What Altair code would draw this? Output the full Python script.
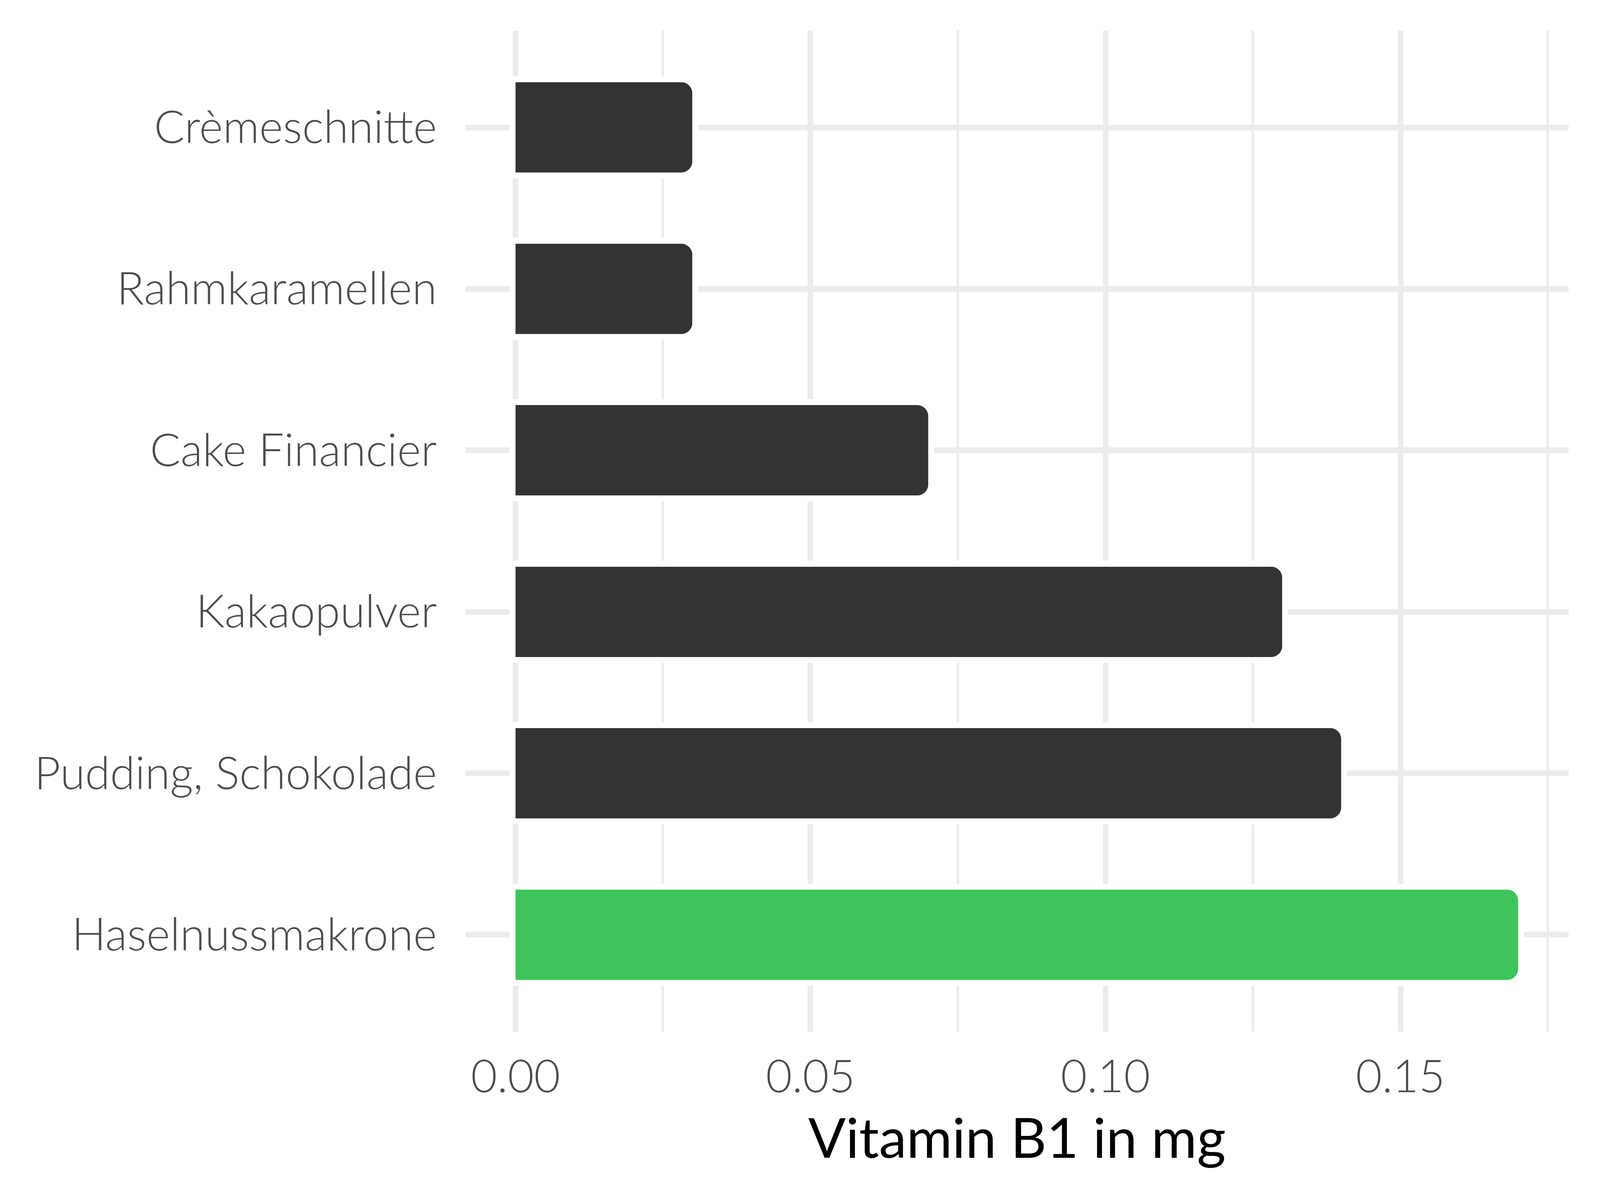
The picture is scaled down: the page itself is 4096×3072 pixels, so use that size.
import altair as alt
import pandas as pd

foods = ["Crèmeschnitte", "Rahmkaramellen", "Cake Financier", "Kakaopulver",
         "Pudding, Schokolade", "Haselnussmakrone"]
values = [0.03, 0.03, 0.07, 0.13, 0.14, 0.17]
highlight = ["nein", "nein", "nein", "nein", "nein", "ja"]
major_ticks = [0.0, 0.05, 0.10, 0.15]
minor_ticks = [0.025, 0.075, 0.125, 0.175]

df = pd.DataFrame({"food": foods, "value": values, "hl": highlight})
minor_df = pd.DataFrame({"value": minor_ticks})

FONT = "Lato"
GRID = "#ebebeb"
LABEL_SIZE = 116

x_scale = alt.Scale(domain=[-0.0085, 0.1785], nice=False, zero=False)
x_axis = alt.Axis(
    values=major_ticks, format=".2f", grid=True, gridColor=GRID, gridWidth=14,
    ticks=False, tickSize=0, domain=False,
    labelFont=FONT, labelFontSize=LABEL_SIZE, labelFontWeight=300, labelColor="#4d4d4d",
    labelPadding=154, labelBaseline="alphabetic", labelFlush=False, labelLimit=3000,
    labelOverlap=False,
    title="Vitamin B1 in mg", titleFont=FONT, titleFontSize=142,
    titleFontWeight="normal", titleColor="#000000",
    titleY=322, titleBaseline="alphabetic",
)
y_scale = alt.Scale(paddingInner=0.44, paddingOuter=0.32)
y_axis = alt.Axis(
    title=None, grid=True, gridColor=GRID, gridWidth=14.5,
    ticks=False, tickSize=0, domain=False,
    labelFont=FONT, labelFontSize=LABEL_SIZE, labelFontWeight=300, labelColor="#4d4d4d",
    labelPadding=73, labelOffset=40, labelBaseline="alphabetic", labelLimit=3000,
)

x_enc = alt.X("value:Q", scale=x_scale, axis=x_axis)
y_enc = alt.Y("food:N", sort=foods, scale=y_scale, axis=y_axis)

minor = alt.Chart(minor_df).mark_rule(color=GRID, strokeWidth=6.5).encode(x=x_enc)

halo = alt.Chart(df).mark_bar(
    color="white", stroke="white", strokeWidth=30, cornerRadiusEnd=29
).encode(x=x_enc, y=y_enc)

bars = alt.Chart(df).mark_bar(cornerRadiusEnd=29).encode(
    x=x_enc, y=y_enc,
    color=alt.Color("hl:N", scale=alt.Scale(domain=["nein", "ja"],
                                            range=["#333333", "#3ec45a"]),
                    legend=None),
)

chart = alt.layer(minor, halo, bars).properties(
    width=2824, height=2563,
    autosize=alt.AutoSizeParams(type="none"),
    padding={"left": 1183, "top": 70, "right": 73, "bottom": 420},
    background="white",
).configure_view(stroke=None)

chart.save("out.html", embed_options={"renderer": "svg", "actions": False})
